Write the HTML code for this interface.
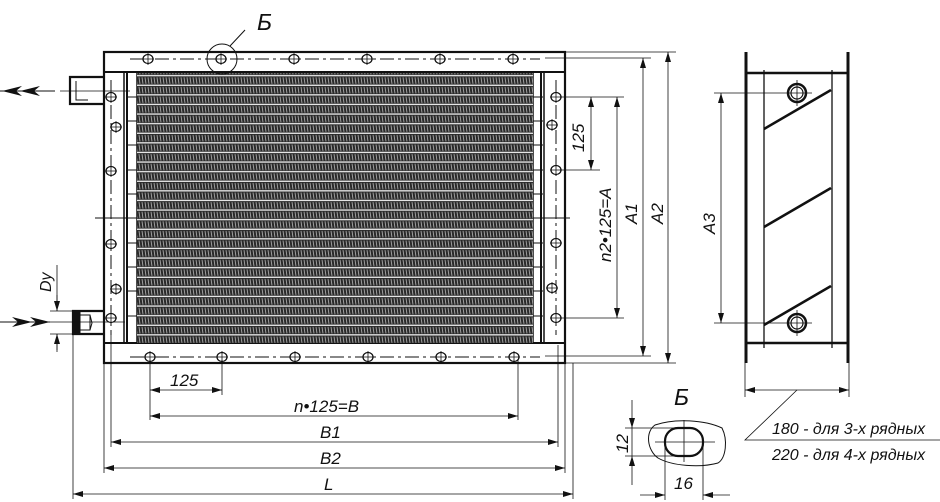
<!DOCTYPE html>
<html><head><meta charset="utf-8"><style>
html,body{margin:0;padding:0;background:#fff;width:940px;height:502px;overflow:hidden}
svg{display:block}
text{font-family:"Liberation Sans",sans-serif;font-style:italic;fill:#111}
</style></head><body>
<svg width="940" height="502" viewBox="0 0 940 502" xmlns="http://www.w3.org/2000/svg">
<defs>
<pattern id="fin" width="3" height="9.6" patternUnits="userSpaceOnUse">
<rect width="3" height="9.6" fill="#2a2a2a"/>
<path d="M1 0.5 L2 7" stroke="#a8a8a8" stroke-width="0.9"/>
<rect y="7.8" width="3" height="1.3" fill="#f0f0f0"/>
</pattern>
<marker id="a" viewBox="0 0 10 6" refX="10" refY="3" markerWidth="10" markerHeight="6" orient="auto-start-reverse" markerUnits="userSpaceOnUse"><path d="M0 0 L10 3 L0 6 Z" fill="#111"/></marker>
<g id="h" stroke="#111" stroke-width="1.3" fill="#fff"><ellipse cx="0" cy="0" rx="5" ry="4.5"/><path d="M0 -6V6M-6 0H6" stroke-width="0.8"/></g>
</defs>
<g stroke="#111" fill="none">
<rect x="104" y="52" width="461" height="311" stroke-width="2.2"/>
<line x1="104" y1="72" x2="565" y2="72" stroke-width="2"/>
<line x1="104" y1="343" x2="565" y2="343" stroke-width="2"/>
<rect x="124" y="72" width="13" height="271" stroke-width="1.5"/>
<rect x="533" y="72" width="11" height="271" stroke-width="1.5"/>
<line x1="127" y1="72" x2="127" y2="343" stroke-width="2"/>
<line x1="541" y1="72" x2="541" y2="343" stroke-width="2"/>
</g>
<rect x="137" y="73" width="396" height="270" fill="url(#fin)"/>
<g stroke="#111" stroke-width="1" fill="none">
<path d="M127 97h10M127 121h10M127 145h10M127 170h10M127 194h10M127 218h10M127 243h10M127 267h10M127 291h10M127 316h10"/>
<path d="M533 97h10M533 121h10M533 145h10M533 170h10M533 194h10M533 218h10M533 243h10M533 267h10M533 291h10M533 316h10"/>
<path d="M130 59H540M130 357H540" stroke-dasharray="14 4 3 4"/>
<path d="M111 80V335M556 80V335" stroke-dasharray="14 4 3 4"/>
<path d="M95 218H130M538 218H570" />
<path d="M104 77H70V104H104" stroke-width="2.2"/>
<path d="M76 81V100H88" />
<line x1="60" y1="91" x2="130" y2="91" stroke-width="0.8"/>
<path d="M104 311H73V334H104" stroke-width="2.2"/>
<path d="M73 311H80V334H73Z" fill="#111"/>
<path d="M80 315H90V330H80M90 315L92 323L90 330"/>
<line x1="40" y1="322" x2="125" y2="322" stroke-width="0.8"/>
</g>
<use href="#h" x="148" y="59"/><use href="#h" x="221" y="59"/><use href="#h" x="294" y="59"/><use href="#h" x="367" y="59"/><use href="#h" x="440" y="59"/><use href="#h" x="513" y="59"/>
<use href="#h" x="150" y="357"/><use href="#h" x="222" y="357"/><use href="#h" x="295" y="357"/><use href="#h" x="368" y="357"/><use href="#h" x="441" y="357"/><use href="#h" x="514" y="357"/>
<use href="#h" x="111" y="97"/><use href="#h" x="116" y="127"/><use href="#h" x="111" y="171"/><use href="#h" x="111" y="244"/><use href="#h" x="116" y="289"/><use href="#h" x="111" y="318"/>
<use href="#h" x="556" y="97"/><use href="#h" x="552" y="125"/><use href="#h" x="556" y="170"/><use href="#h" x="556" y="243"/><use href="#h" x="552" y="288"/><use href="#h" x="556" y="318"/>
<g stroke="#111" fill="none" stroke-width="1">
<circle cx="222" cy="59" r="15"/>
<line x1="230" y1="46" x2="245" y2="30"/>
<path d="M0 91H55M0 322H50"/>
</g>
<path d="M2 91L22 86L16 91L22 96Z M20 91L40 86L34 91L40 96Z" fill="#111"/>
<path d="M50 322L30 317L36 322L30 327Z M32 322L12 317L18 322L12 327Z" fill="#111"/>
<text x="257" y="30" font-size="23">Б</text>
<g stroke="#111" stroke-width="0.8" fill="none">
<path d="M560 97H624M560 170H600M560 318H624M545 58H651M565 52H676M545 356H651M565 363H676"/>
<line x1="591" y1="97" x2="591" y2="170" marker-start="url(#a)" marker-end="url(#a)"/>
<line x1="617" y1="97" x2="617" y2="318" marker-start="url(#a)" marker-end="url(#a)"/>
<line x1="643" y1="58" x2="643" y2="356" marker-start="url(#a)" marker-end="url(#a)"/>
<line x1="668" y1="52" x2="668" y2="363" marker-start="url(#a)" marker-end="url(#a)"/>
<path d="M150 360V420M222 360V395M518 360V420M111 335V447M558 345V447M104 363V473M565 363V473M73 334V499M573 363V499"/>
<line x1="150" y1="390" x2="222" y2="390" marker-start="url(#a)" marker-end="url(#a)"/>
<line x1="150" y1="416" x2="518" y2="416" marker-start="url(#a)" marker-end="url(#a)"/>
<line x1="111" y1="442" x2="558" y2="442" marker-start="url(#a)" marker-end="url(#a)"/>
<line x1="104" y1="468" x2="565" y2="468" marker-start="url(#a)" marker-end="url(#a)"/>
<line x1="73" y1="494" x2="573" y2="494" marker-start="url(#a)" marker-end="url(#a)"/>
<path d="M50 311H72M50 334H72M57 265V311M57 334V352"/>
<line x1="57" y1="295" x2="57" y2="311" marker-end="url(#a)"/>
<line x1="57" y1="350" x2="57" y2="334" marker-end="url(#a)"/>
</g>
<text font-size="17" transform="translate(584,152) rotate(-90)">125</text>
<text font-size="17" transform="translate(611,262) rotate(-90)">n2•125=A</text>
<text font-size="17" transform="translate(637,224) rotate(-90)">A1</text>
<text font-size="17" transform="translate(663,224) rotate(-90)">A2</text>
<text font-size="16" transform="translate(51,292) rotate(-90)">Dy</text>
<text x="170" y="386" font-size="17">125</text>
<text x="294" y="412" font-size="17">n•125=B</text>
<text x="320" y="438" font-size="17">B1</text>
<text x="320" y="464" font-size="17">B2</text>
<text x="324" y="490" font-size="17">L</text>
<g stroke="#111" fill="none">
<path d="M746 52V363M848 52V363" stroke-width="3"/>
<path d="M746 73H848M746 343H848" stroke-width="2.5"/>
<path d="M764 70V348M832 70V348" stroke-width="1.3"/>
<path d="M764 129L831 90M764 227L831 188M764 325L831 286" stroke-width="2.5"/>
<circle cx="797" cy="93" r="9" stroke-width="2.5" fill="#fff"/><circle cx="797" cy="93" r="6" stroke-width="1.2"/>
<circle cx="797" cy="323" r="9" stroke-width="2.5" fill="#fff"/><circle cx="797" cy="323" r="6" stroke-width="1.2"/>
<g stroke-width="0.8">
<path d="M714 93H812M714 323H812M797 80V106M797 310V336"/>
<line x1="721" y1="93" x2="721" y2="323" marker-start="url(#a)" marker-end="url(#a)"/>
<path d="M745 363V397M849 363V397"/>
<line x1="745" y1="390" x2="849" y2="390" marker-start="url(#a)" marker-end="url(#a)"/>
<path d="M797 390L745 440H940"/>
</g>
</g>
<text font-size="17" transform="translate(715,234) rotate(-90)">A3</text>
<text x="772" y="434" font-size="16">180  - для 3-х рядных</text>
<text x="772" y="460" font-size="16">220  - для 4-х рядных</text>
<text x="674" y="405" font-size="23">Б</text>
<g stroke="#111" fill="none">
<path d="M655 425C675 418 705 420 722 428C728 440 726 458 718 463C700 468 672 466 658 458C647 450 645 432 655 425Z" stroke-width="1"/>
<rect x="665" y="428" width="38" height="28" rx="13" stroke-width="2.2"/>
<g stroke-width="0.8">
<path d="M625 428H680M625 456H680M665 445V500M703 445V500M684 420V462M655 442H715" />
<line x1="632" y1="400" x2="632" y2="428" marker-end="url(#a)"/>
<line x1="632" y1="485" x2="632" y2="456" marker-end="url(#a)"/>
<line x1="632" y1="428" x2="632" y2="456"/>
<line x1="640" y1="495" x2="665" y2="495" marker-end="url(#a)"/>
<line x1="730" y1="495" x2="703" y2="495" marker-end="url(#a)"/>
</g>
</g>
<text font-size="17" transform="translate(628,453) rotate(-90)">12</text>
<text x="674" y="489" font-size="17">16</text>
</svg>
</body></html>
